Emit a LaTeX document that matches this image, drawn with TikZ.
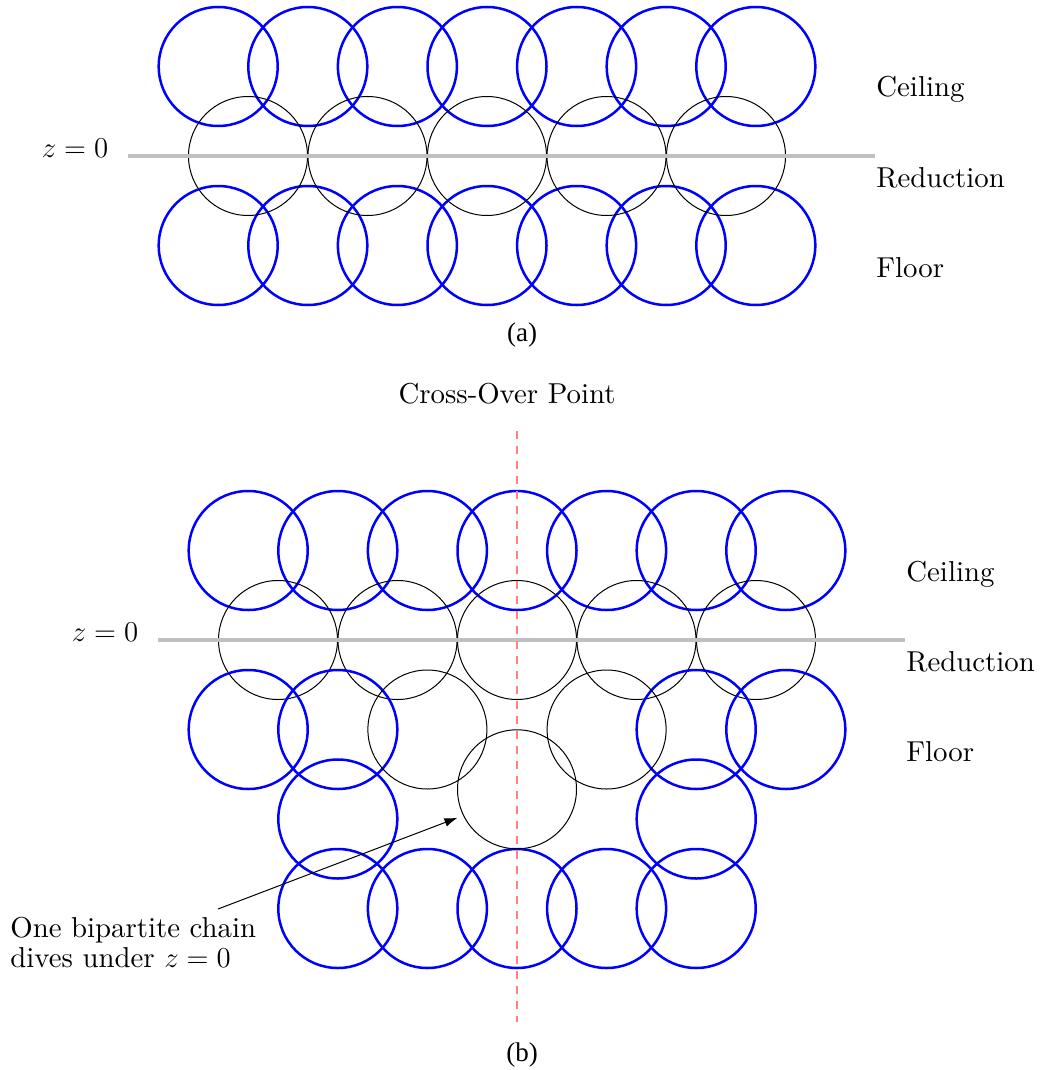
\documentclass[tikz,border=0pt]{standalone}
\usepackage{fontspec}
\setmainfont{lmroman10-regular}[Extension=.otf,BoldFont=lmroman10-bold,ItalicFont=lmroman10-italic]
\usetikzlibrary{arrows.meta}
\newfontfamily\capfont{Liberation Serif}
\definecolor{dashred}{RGB}{255,128,128}
\definecolor{zgray}{RGB}{192,192,192}
\tikzset{
  bcirc/.style={circle,draw={rgb,255:red,0;green,0;blue,255},line width=1.25pt,minimum size=59.5pt,inner sep=0pt},
  kcirc/.style={circle,draw=black,line width=0.5pt,minimum size=59.5pt,inner sep=0pt},
  zline/.style={draw=zgray,line width=2pt},
  crossline/.style={draw=dashred,line width=0.7pt,dash pattern=on 4pt off 3.5pt},
  lbl/.style={anchor=base west,inner sep=0pt,font=\fontsize{14.4}{15}\selectfont},
  zlbl/.style={inner sep=0pt,font=\fontsize{14.4}{15}\selectfont},
  caplbl/.style={anchor=base,inner sep=0pt,font=\capfont\fontsize{13.5}{15}\selectfont},
  arrowline/.style={draw=black,line width=0.5pt,-{Latex[length=6.5pt,width=4.5pt]}}
}
\begin{document}
\begin{tikzpicture}[x=0.5pt,y=-0.5pt]
\useasboundingbox (0,0) rectangle (1040,1070);
% ---------- (a) ----------
\foreach \i in {0,...,6} {
  \node[bcirc] (at\i) at ({218.2+89.6*\i},66.5) {};
  \node[bcirc] (af\i) at ({218.2+89.6*\i},245.5) {};
}
\foreach \i in {0,...,4} {
  \node[kcirc] (am\i) at ({248+119.5*\i},156) {};
}
\coordinate (za1) at (128,156);
\coordinate (za2) at (875,156);
\draw[zline] (za1) -- (za2);
\node[zlbl] (zla) at (75,148) {$z=0$};
\node[lbl] (ceila) at (876,97) {Ceiling};
\node[lbl] (reda) at (876,187) {Reduction};
\node[lbl] (floora) at (876,277) {Floor};
\node[caplbl] (capa) at (522,341) {(a)};
% ---------- (b) ----------
\node[zlbl,anchor=base] (cross) at (507,403) {Cross-Over Point};
\foreach \i in {0,...,6} {
  \node[bcirc] (bt\i) at ({248.2+89.6*\i},550.5) {};
}
\foreach \i in {0,...,4} {
  \node[kcirc] (bm\i) at ({278+119.5*\i},640) {};
  \node[bcirc] (bb\i) at ({337.8+89.6*\i},908.5) {};
}
\node[bcirc] (bf0) at (248.2,729.5) {};
\node[bcirc] (bf1) at (337.8,729.5) {};
\node[bcirc] (bf2) at (696.2,729.5) {};
\node[bcirc] (bf3) at (785.8,729.5) {};
\node[kcirc] (bk1) at (427.4,729.5) {};
\node[kcirc] (bk2) at (606.6,729.5) {};
\node[kcirc] (bk3) at (517,789.3) {};
\node[bcirc] (bl1) at (337.8,819) {};
\node[bcirc] (bl2) at (696.2,819) {};
\coordinate (zb1) at (158,640);
\coordinate (zb2) at (905,640);
\draw[zline] (zb1) -- (zb2);
\coordinate (cr1) at (517,431);
\coordinate (cr2) at (517,1022);
\draw[crossline] (cr1) -- (cr2);
\node[zlbl] (zlb) at (105,632) {$z=0$};
\node[lbl] (ceilb) at (906,581) {Ceiling};
\node[lbl] (redb) at (906,671) {Reduction};
\node[lbl] (floorb) at (906,761) {Floor};
\node[zlbl,anchor=north west,align=left] (note) at (10,917) {One bipartite chain\\dives under $z=0$};
\coordinate (arrtail) at (218,909);
\draw[arrowline,shorten >=3pt] (arrtail) -- (bk3.206.7);
\node[caplbl] (capb) at (522,1061) {(b)};
\end{tikzpicture}
\end{document}
